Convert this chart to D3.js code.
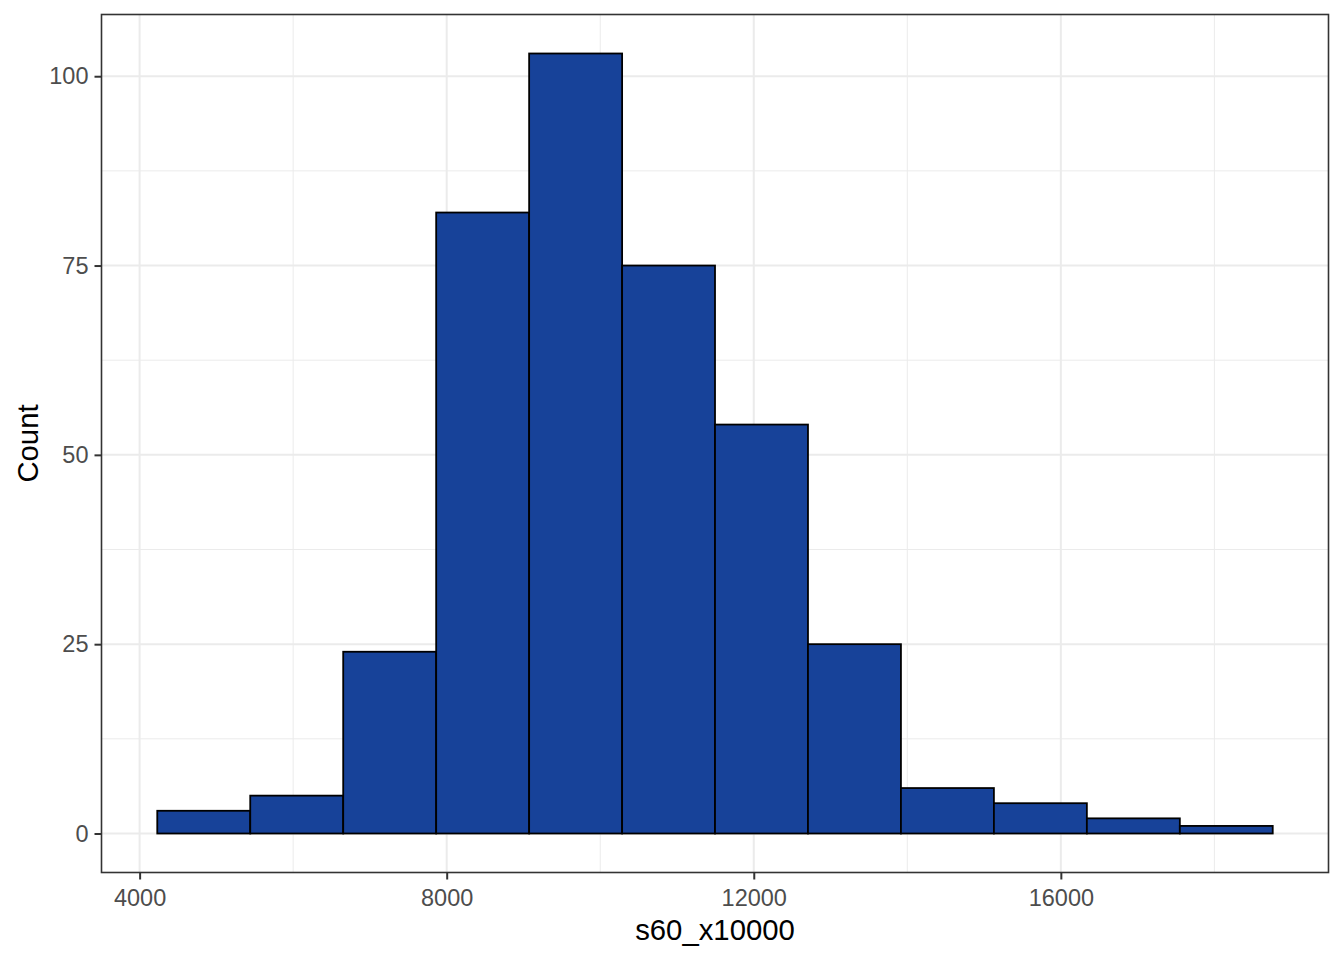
<!DOCTYPE html>
<html>
<head>
<meta charset="utf-8">
<script src="https://cdn.jsdelivr.net/npm/d3@7"></script>
<style>
  html, body { margin: 0; padding: 0; background: #fff; }
  svg { display: block; }
  text { font-family: "Liberation Sans", Arial, sans-serif; }
</style>
</head>
<body>
<svg id="chart" width="1344" height="960"></svg>
<script>
// ---- data ----
const binEdges = [4230, 5441, 6652, 7863, 9074, 10285, 11495, 12706, 13917, 15128, 16339, 17550, 18760];
const counts = [3, 5, 24, 82, 103, 75, 54, 25, 6, 4, 2, 1];
const xTicks = [4000, 8000, 12000, 16000];
const xMinor = [6000, 10000, 14000, 18000];
const yTicks = [0, 25, 50, 75, 100];
const yMinor = [12.5, 37.5, 62.5, 87.5];
const xTitle = "s60_x10000";
const yTitle = "Count";

const bins = counts.map((c, i) => ({x0: binEdges[i], x1: binEdges[i + 1], count: c}));

// ---- layout ----
const panel = {left: 101.5, right: 1328.5, top: 14.5, bottom: 872.5};
const xMin = binEdges[0], xMax = binEdges[binEdges.length - 1];
const xPad = (xMax - xMin) * 0.05;
const yMax = d3.max(counts);
const yPad = yMax * 0.05;

const x = d3.scaleLinear().domain([xMin - xPad, xMax + xPad]).range([panel.left, panel.right]);
const y = d3.scaleLinear().domain([-yPad, yMax + yPad]).range([panel.bottom, panel.top]);

const svg = d3.select("#chart");
svg.append("rect").attr("width", 1344).attr("height", 960).attr("fill", "#fff");

const grid = svg.append("g");
// minor grid
grid.selectAll(".xm").data(xMinor).join("line")
  .attr("class", "xm")
  .attr("x1", d => x(d)).attr("x2", d => x(d))
  .attr("y1", panel.top).attr("y2", panel.bottom)
  .attr("stroke", "#EBEBEB").attr("stroke-width", 1);
grid.selectAll(".ym").data(yMinor).join("line")
  .attr("class", "ym")
  .attr("y1", d => y(d)).attr("y2", d => y(d))
  .attr("x1", panel.left).attr("x2", panel.right)
  .attr("stroke", "#EBEBEB").attr("stroke-width", 1);
// major grid
grid.selectAll(".xM").data(xTicks).join("line")
  .attr("class", "xM")
  .attr("x1", d => x(d)).attr("x2", d => x(d))
  .attr("y1", panel.top).attr("y2", panel.bottom)
  .attr("stroke", "#EBEBEB").attr("stroke-width", 2);
grid.selectAll(".yM").data(yTicks).join("line")
  .attr("class", "yM")
  .attr("y1", d => y(d)).attr("y2", d => y(d))
  .attr("x1", panel.left).attr("x2", panel.right)
  .attr("stroke", "#EBEBEB").attr("stroke-width", 2);

// bars
svg.append("g").selectAll("rect").data(bins).join("rect")
  .attr("x", d => x(d.x0))
  .attr("width", d => x(d.x1) - x(d.x0))
  .attr("y", d => y(d.count))
  .attr("height", d => y(0) - y(d.count))
  .attr("fill", "#174299")
  .attr("stroke", "#000")
  .attr("stroke-width", 1.8);

// panel border
svg.append("rect")
  .attr("x", panel.left).attr("y", panel.top)
  .attr("width", panel.right - panel.left).attr("height", panel.bottom - panel.top)
  .attr("fill", "none").attr("stroke", "#333333").attr("stroke-width", 1.6);

// axes
const xAxis = d3.axisBottom(x).tickValues(xTicks).tickSize(7).tickPadding(10).tickFormat(d3.format("d"));
const yAxis = d3.axisLeft(y).tickValues(yTicks).tickSize(7).tickPadding(6).tickFormat(d3.format("d"));

const gx = svg.append("g").attr("transform", `translate(0,${panel.bottom})`).call(xAxis);
const gy = svg.append("g").attr("transform", `translate(${panel.left},0)`).call(yAxis);
[gx, gy].forEach(g => {
  g.select(".domain").remove();
  g.selectAll(".tick line").attr("stroke", "#333333").attr("stroke-width", 2);
  g.selectAll(".tick text").attr("fill", "#4D4D4D").style("font-size", "23.5px")
    .style("font-family", "'Liberation Sans', Arial, sans-serif");
});

// titles
svg.append("text")
  .attr("x", (panel.left + panel.right) / 2).attr("y", 940)
  .attr("text-anchor", "middle").attr("fill", "#000")
  .style("font-size", "29.3px").text(xTitle);
svg.append("text")
  .attr("transform", `translate(38,${(panel.top + panel.bottom) / 2}) rotate(-90)`)
  .attr("text-anchor", "middle").attr("fill", "#000")
  .style("font-size", "29.3px").text(yTitle);
</script>
</body>
</html>
